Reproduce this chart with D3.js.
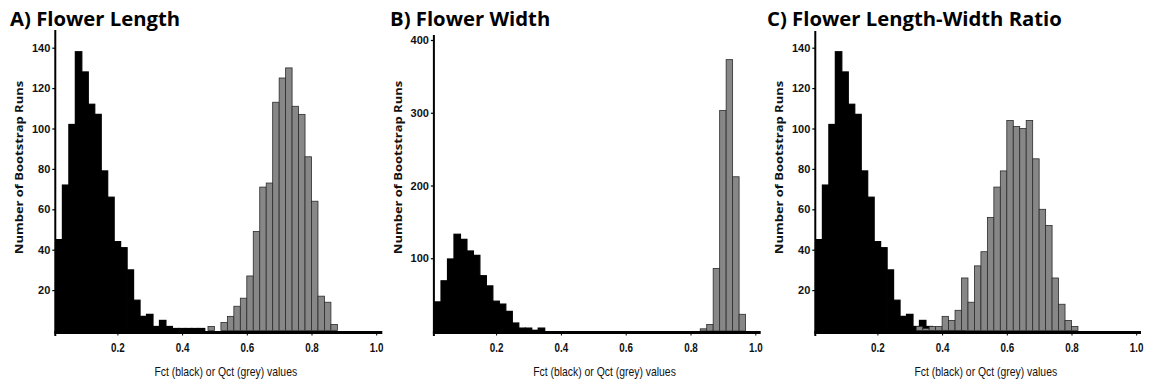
<!DOCTYPE html>
<html><head><meta charset="utf-8">
<script src="https://cdn.jsdelivr.net/npm/d3@7/dist/d3.min.js"></script>
<style>body{margin:0;background:#fff}svg{display:block}</style>
</head><body><svg id="chart" width="1150" height="385"></svg>
<script>
// ---- data ----
const panelTitles = ["A) Flower Length", "B) Flower Width", "C) Flower Length-Width Ratio"];
const xTickValues = [0.2, 0.4, 0.6, 0.8, 1.0];
const xTickLabels = ["0.2", "0.4", "0.6", "0.8", "1.0"];
const yTicksLength = [20, 40, 60, 80, 100, 120, 140];
const yTicksWidth = [100, 200, 300, 400];
const yTicksRatio = [20, 40, 60, 80, 100, 120, 140];
const xAxisTitle = "Fct (black) or Qct (grey) values";
const yAxisTitle = "Number of Bootstrap Runs";
const binWidth = 0.02;

// A) Flower Length
const lengthFctStarts = [0.01,0.03,0.05,0.07,0.09,0.11,0.13,0.15,0.17,0.19,0.21,0.23,0.25,0.27,0.29,0.31,0.33,0.35,0.37,0.39,0.41,0.43,0.45];
const lengthFctCounts = [45,72,102,138,128,112,107,79,66,44,41,30,15,7,8,2,5,2,1,1,1,1,1];
const lengthQctStarts = [0.48,0.50,0.52,0.54,0.56,0.58,0.60,0.62,0.64,0.66,0.68,0.70,0.72,0.74,0.76,0.78,0.80,0.82,0.84,0.86];
const lengthQctCounts = [2,0,4,7,12,16,27,49,71,73,113,125,130,111,107,86,64,17,14,3];

// B) Flower Width
const widthFctStarts = [0.01,0.03,0.05,0.07,0.09,0.11,0.13,0.15,0.17,0.19,0.21,0.23,0.25,0.27,0.29,0.31,0.33];
const widthFctCounts = [40,69,99,133,126,110,104,76,62,41,37,27,11,4,4,1,4];
const widthQctStarts = [0.83,0.85,0.87,0.89,0.91,0.93,0.95];
const widthQctCounts = [3,9,86,303,373,212,23];

// C) Flower Length-Width Ratio
const ratioFctStarts = [0.01,0.03,0.05,0.07,0.09,0.11,0.13,0.15,0.17,0.19,0.21,0.23,0.25,0.27,0.29,0.31,0.33,0.35,0.37,0.39,0.41,0.43,0.45];
const ratioFctCounts = [45,72,102,138,128,112,107,79,66,44,41,30,15,7,8,2,5,2,1,1,1,1,1];
const ratioQctStarts = [0.32,0.34,0.36,0.38,0.40,0.42,0.44,0.46,0.48,0.50,0.52,0.54,0.56,0.58,0.60,0.62,0.64,0.66,0.68,0.70,0.72,0.74,0.76,0.78,0.80];
const ratioQctCounts = [2,1,2,2,7,5,10,26,14,32,39,56,71,79,104,101,100,104,85,60,52,26,13,5,2];

// ---- layout ----
const layouts = [
  {x0: 52.7, x1: 376.2, axisEnd: 382.3, yBottom: 330.5, yMax: 140, yTopPx: 47.7, axisTop: 30, titleX: 10, yTitleX: 18.7, xTitleX: 225.8},
  {x0: 431.3, x1: 755.3, axisEnd: 760.7, yBottom: 331, yMax: 400, yTopPx: 40, axisTop: 35, titleX: 390, yTitleX: 397.5, xTitleX: 604.5},
  {x0: 812.7, x1: 1136.2, axisEnd: 1141, yBottom: 330.5, yMax: 140, yTopPx: 47.7, axisTop: 31, titleX: 767, yTitleX: 778.7, xTitleX: 985.8}
];
const panelData = [
  {fs: lengthFctStarts, fc: lengthFctCounts, qs: lengthQctStarts, qc: lengthQctCounts, yt: yTicksLength},
  {fs: widthFctStarts, fc: widthFctCounts, qs: widthQctStarts, qc: widthQctCounts, yt: yTicksWidth},
  {fs: ratioFctStarts, fc: ratioFctCounts, qs: ratioQctStarts, qc: ratioQctCounts, yt: yTicksRatio}
];

const svg = d3.select("#chart");
svg.append("rect").attr("width", 1150).attr("height", 385).attr("fill", "#fff");

const sans = "'Liberation Sans', Arial, sans-serif";

panelData.forEach((pd, i) => {
  const L = layouts[i];
  const x = d3.scaleLinear().domain([0, 1]).range([L.x0, L.x1]);
  const y = d3.scaleLinear().domain([0, L.yMax]).range([L.yBottom, L.yTopPx]);
  const g = svg.append("g");

  // title
  g.append("text").attr("x", L.titleX).attr("y", 26)
    .attr("font-family", "'Open Sans', sans-serif").attr("font-weight", 700)
    .attr("font-size", 20.3).attr("fill", "#000").text(panelTitles[i]);

  // black (Fct) bars
  const fData = pd.fs.map((s, k) => ({s, c: pd.fc[k]})).filter(d => d.c > 0);
  g.append("g").selectAll("rect").data(fData).join("rect")
    .attr("x", d => x(d.s)).attr("width", d => x(d.s + binWidth) - x(d.s))
    .attr("y", d => y(d.c)).attr("height", d => y(0) - y(d.c))
    .attr("fill", "#000").attr("stroke", "#000").attr("stroke-width", 1.2);

  // grey (Qct) bars
  const qData = pd.qs.map((s, k) => ({s, c: pd.qc[k]})).filter(d => d.c > 0);
  g.append("g").selectAll("rect").data(qData).join("rect")
    .attr("x", d => x(d.s)).attr("width", d => x(d.s + binWidth) - x(d.s))
    .attr("y", d => y(d.c)).attr("height", d => y(0) - y(d.c))
    .attr("fill", "#878787").attr("stroke", "#2b2b2b").attr("stroke-width", 0.8);

  const axisX = x(0.008);

  // y axis
  const yAxis = d3.axisLeft(y).tickValues(pd.yt).tickSize(3).tickPadding(2).tickFormat(d3.format("d"));
  const ya = g.append("g").attr("transform", `translate(${axisX},0)`).call(yAxis);
  ya.select(".domain").remove();
  ya.selectAll(".tick line").attr("stroke", "#000").attr("stroke-width", 1.2);
  ya.selectAll(".tick text").attr("font-family", sans).attr("font-weight", 700)
    .attr("font-size", 11).attr("fill", "#111");
  g.append("line").attr("x1", axisX).attr("x2", axisX).attr("y1", L.axisTop).attr("y2", 336)
    .attr("stroke", "#000").attr("stroke-width", 2);

  // x axis
  const xAxis = d3.axisBottom(x).tickValues(xTickValues).tickSize(3).tickPadding(8)
    .tickFormat((d, k) => xTickLabels[k]);
  const xa = g.append("g").attr("transform", `translate(0,332.5)`).call(xAxis);
  xa.select(".domain").remove();
  xa.selectAll(".tick line").attr("stroke", "#000").attr("stroke-width", 1);
  xa.selectAll(".tick text").attr("font-family", sans).attr("font-weight", 700)
    .attr("font-size", 12).attr("fill", "#111").attr("transform", "scale(0.82,1)");
  g.append("line").attr("x1", axisX - 1).attr("x2", L.axisEnd).attr("y1", 332.5).attr("y2", 332.5)
    .attr("stroke", "#000").attr("stroke-width", 3);

  // x axis title
  g.append("text").attr("transform", `translate(${L.xTitleX},376) scale(0.8,1)`)
    .attr("text-anchor", "middle").attr("font-family", sans)
    .attr("font-size", 13).attr("fill", "#111").text(xAxisTitle);

  // y axis title
  g.append("text")
    .attr("transform", `translate(${L.yTitleX + 4},167.5) scale(0.78,1) rotate(-90)`)
    .attr("text-anchor", "middle").attr("font-family", "'Open Sans', sans-serif")
    .attr("font-weight", 700).attr("font-size", 13).attr("fill", "#111").text(yAxisTitle);
});
</script>
</body></html>
